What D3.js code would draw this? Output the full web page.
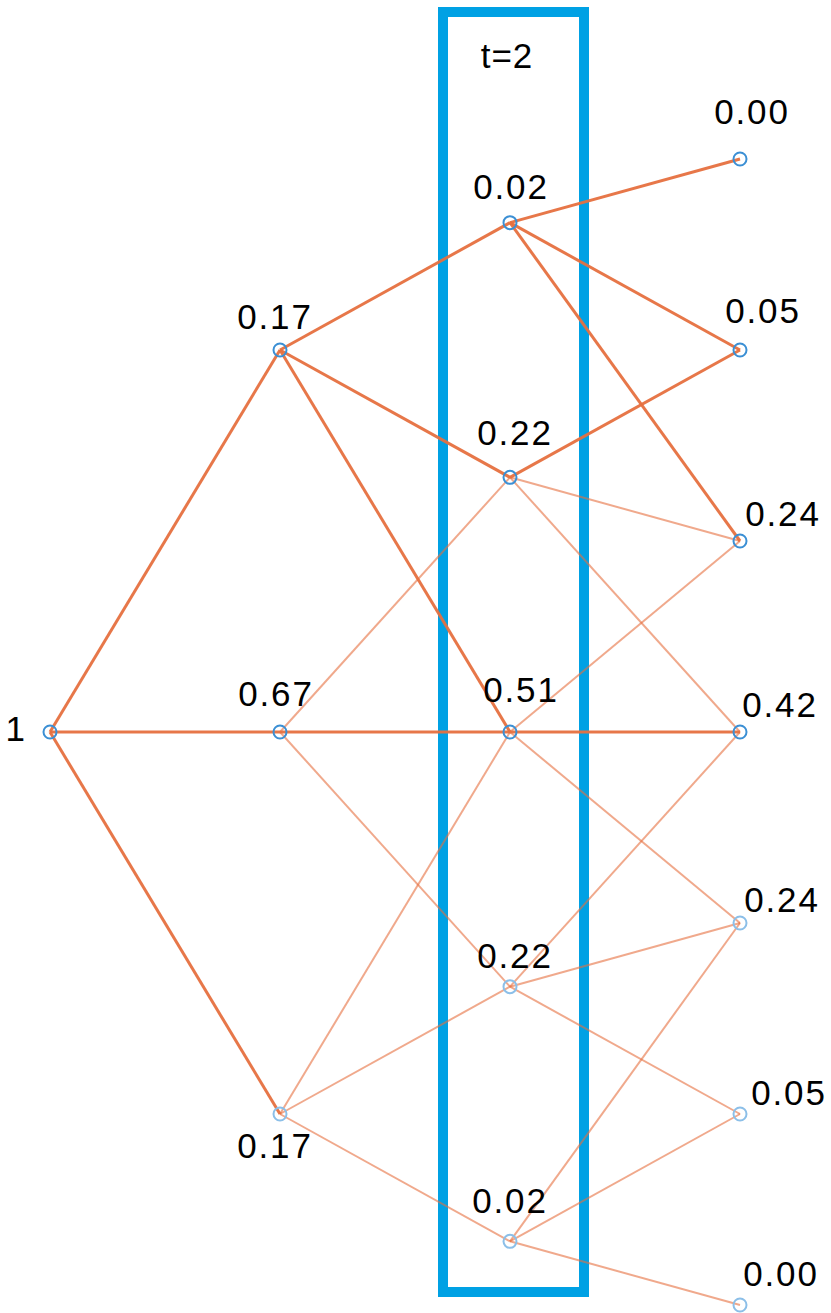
<!DOCTYPE html>
<html>
<head>
<meta charset="utf-8">
<script src="https://cdn.jsdelivr.net/npm/d3@7"></script>
<style>
  html, body { margin: 0; padding: 0; background: #fff; }
  svg { display: block; }
  text { font-family: "Liberation Sans", Arial, sans-serif; }
</style>
</head>
<body>
<svg id="chart" width="831" height="1313"></svg>
<script>
// ---- data ----
const steps = [0, 1, 2, 3];
const probLabels = [
  ["1"],
  ["0.17", "0.67", "0.17"],
  ["0.02", "0.22", "0.51", "0.22", "0.02"],
  ["0.00", "0.05", "0.24", "0.42", "0.24", "0.05", "0.00"]
];
// emphasized (dark) edges: [step, fromIndex, toIndex]
const strongEdges = [
  [0, 0, 0], [0, 0, 1], [0, 0, 2],
  [1, 0, 0], [1, 0, 1], [1, 0, 2],
  [1, 1, 2],
  [2, 0, 0], [2, 0, 1], [2, 0, 2],
  [2, 1, 1],
  [2, 2, 3]
];
const highlightStep = 2;
const highlightLabel = "t=" + highlightStep;

// ---- layout (styling only) ----
// label offsets [dx, dy] relative to node
const labelOffsets = [
  [[-25, 9]],
  [[-5, -21], [-4, -26], [-5, 44]],
  [[1, -24], [5, -32], [11, -30], [5, -19], [0, -28]],
  [[12, -35], [23, -27], [43, -15], [40, -15], [42, -11], [49, -9], [41, -19]]
];

const svg = d3.select("#chart");
const x = d3.scaleLinear().domain([0, 3]).range([50, 740]);
const y = d3.scaleLinear().domain([-1, 1]).range([732 + 764, 732 - 764]);

function nodePos(t, i) {
  const k = t - i;
  return [x(t), y(k / (t + 1))];
}

const strongSet = new Set(strongEdges.map(e => e.join("-")));

// edges
const edges = [];
steps.slice(0, -1).forEach(t => {
  probLabels[t].forEach((_, i) => {
    for (let d = 0; d < 3; d++) {
      edges.push({ t, i, j: i + d, strong: strongSet.has([t, i, i + d].join("-")) });
    }
  });
});
edges.sort((a, b) => a.strong - b.strong);

// highlight rectangle
svg.append("rect")
  .attr("x", x(highlightStep) - 67)
  .attr("y", 12)
  .attr("width", 141)
  .attr("height", 1280)
  .attr("fill", "none")
  .attr("stroke", "#00a1e4")
  .attr("stroke-width", 10);

svg.append("text")
  .attr("x", x(highlightStep) - 3)
  .attr("y", 68)
  .attr("text-anchor", "middle")
  .attr("font-size", 35)
  .attr("letter-spacing", 1)
  .attr("fill", "#000")
  .text(highlightLabel);

svg.append("g").selectAll("line")
  .data(edges)
  .join("line")
  .attr("x1", d => nodePos(d.t, d.i)[0])
  .attr("y1", d => nodePos(d.t, d.i)[1])
  .attr("x2", d => nodePos(d.t + 1, d.j)[0])
  .attr("y2", d => nodePos(d.t + 1, d.j)[1])
  .attr("stroke", "#e6703f")
  .attr("stroke-opacity", d => d.strong ? 0.95 : 0.6)
  .attr("stroke-width", d => d.strong ? 3 : 2);

// nodes (lower-half states drawn lighter)
const nodes = [];
steps.forEach(t => probLabels[t].forEach((lab, i) => {
  const [px, py] = nodePos(t, i);
  nodes.push({ t, i, px, py, lab, light: (t - i) < 0 });
}));

svg.append("g").selectAll("circle")
  .data(nodes)
  .join("circle")
  .attr("cx", d => d.px)
  .attr("cy", d => d.py)
  .attr("r", 6.5)
  .attr("fill", "none")
  .attr("stroke", d => d.light ? "#8cbfe8" : "#3b8fd4")
  .attr("stroke-width", 2);

svg.append("g").selectAll("text")
  .data(nodes)
  .join("text")
  .attr("x", d => d.px + labelOffsets[d.t][d.i][0])
  .attr("y", d => d.py + labelOffsets[d.t][d.i][1])
  .attr("text-anchor", d => d.t === 0 ? "end" : "middle")
  .attr("font-size", 35)
  .attr("letter-spacing", d => d.t === 0 ? 0 : 1.8)
  .attr("fill", "#000")
  .text(d => d.lab);
</script>
</body>
</html>
